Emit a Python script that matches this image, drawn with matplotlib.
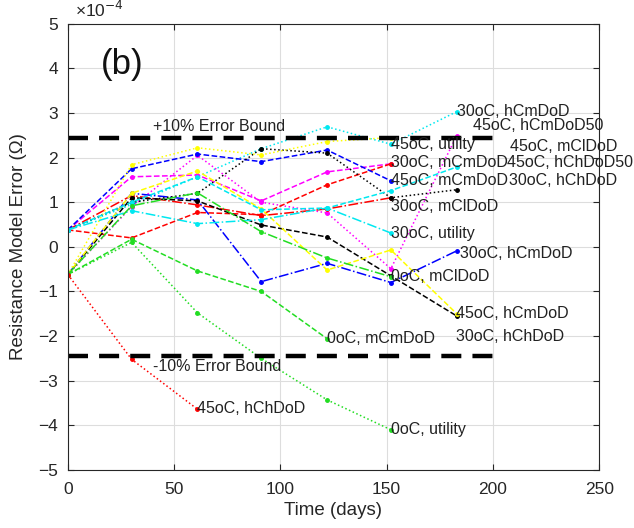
import numpy as np
import matplotlib
matplotlib.use("Agg")
import matplotlib.pyplot as plt

plt.rcParams['font.family'] = ['Liberation Sans', 'DejaVu Sans']

# Measurement days
days = [0, 30, 61, 91, 122, 152, 183]
nan = np.nan

# Model error values (x1e-4 Ohm)
cyan_dot = [0.38, 0.95, 1.57, 2.20, 2.69, 2.30, 3.03]
magenta_dot = [-0.62, 0.90, 2.05, 1.00, 0.76, -0.49, 2.49]
magenta_dash = [0.38, 1.57, 1.61, 1.03, 1.68, 1.86, nan]
red_dash = [0.38, 0.20, 0.77, 0.72, 1.39, 1.86, nan]
red_dashdot = [0.38, 1.15, 0.94, 0.70, 0.85, 1.10, nan]
blue_dash = [0.38, 1.75, 2.08, 1.91, 2.17, 1.48, nan]
blue_dashdot = [-0.62, 1.20, 1.05, -0.78, -0.37, -0.80, -0.09]
black_dash = [-0.62, 1.10, 1.03, 0.49, 0.22, -0.65, -1.55]
black_dot = [0.38, 1.00, 1.20, 2.20, 2.10, 1.10, 1.28]
yellow_dot = [-0.62, 1.84, 2.22, 2.06, 2.36, 2.45, nan]
yellow_dash = [-0.62, 1.20, 1.70, 0.85, -0.52, -0.07, -1.50]
cyan_dash = [0.38, 1.00, 1.57, 0.83, 0.87, 1.26, 1.79]
cyan_dashdot = [0.38, 0.81, 0.52, 0.61, 0.87, 0.31, nan]
green_dashdot = [-0.62, 0.92, 1.21, 0.34, -0.25, -0.67, nan]
green_dash = [-0.62, 0.17, -0.54, -1.00, -2.06, nan, nan]
green_dot = [-0.62, 0.10, -1.48, -2.50, -3.43, -4.10, nan]
red_dot = [-0.62, -2.52, -3.64, nan, nan, nan, nan]

series = [
    (cyan_dot, 'c', ':'), (magenta_dot, 'm', ':'), (magenta_dash, 'm', '--'),
    (red_dash, 'r', '--'), (red_dashdot, 'r', '-.'), (blue_dash, 'b', '--'),
    (blue_dashdot, 'b', '-.'), (black_dash, 'k', '--'), (black_dot, 'k', ':'),
    (yellow_dot, 'y', ':'), (yellow_dash, 'y', '--'), (cyan_dash, 'c', '--'),
    (cyan_dashdot, 'c', '-.'), (green_dashdot, 'g', '-.'), (green_dash, 'g', '--'),
    (green_dot, 'g', ':'), (red_dot, 'r', ':'),
]
colors = {'c': '#00e8f0', 'm': '#ff00ff', 'r': '#ff0000', 'b': '#0000ff',
          'k': '#000000', 'y': '#ffff00', 'g': '#22dd22'}

# End labels: (text, day, value)
labels = [
    ("30oC, hCmDoD", 183, 3.03), ("45oC, hCmDoD50", 190.5, 2.71),
    ("45oC, mClDoD", 208, 2.24), ("45oC, hChDoD50", 206.5, 1.88),
    ("30oC, hChDoD", 207.5, 1.48), ("45oC, utility", 152, 2.29),
    ("30oC, mCmDoD", 152, 1.88), ("45oC, mCmDoD", 152, 1.48),
    ("30oC, mClDoD", 152, 0.90), ("30oC, utility", 152, 0.31),
    ("30oC, hCmDoD", 184.5, -0.16), ("0oC, mClDoD", 152, -0.67),
    ("45oC, hCmDoD", 182.5, -1.50), ("30oC, hChDoD", 182.5, -2.00),
    ("0oC, mCmDoD", 122, -2.06), ("45oC, hChDoD", 61, -3.63),
    ("0oC, utility", 152, -4.10),
]
bound = 2.45

fig = plt.figure(figsize=(6.34, 5.28), dpi=100)
ax = fig.add_axes([0.107, 0.110, 0.838, 0.845])

for vals, c, ls in series:
    ax.plot(days, vals, color=colors[c], linestyle=ls, linewidth=1.1,
            marker='.', markersize=5)

ax.plot([0, 200], [bound, bound], color='k', lw=3.2, linestyle=(0, (4.5, 2.5)))
ax.plot([0, 200], [-bound, -bound], color='k', lw=3.2, linestyle=(0, (4.5, 2.5)))
ax.text(40, 2.69, "+10% Error Bound", fontsize=11.5, va='center', ha='left', color='#222222')
ax.text(40, -2.69, "-10% Error Bound", fontsize=11.5, va='center', ha='left', color='#222222')

for t, x, y in labels:
    ax.text(x, y, t, fontsize=11.5, va='center', ha='left', color='#222222')

ax.text(25.5, 4.08, "(b)", fontsize=25, ha='center', va='center', color='#111111')

ax.set_xlim(0, 250)
ax.set_ylim(-5, 5)
ax.set_xticks([0, 50, 100, 150, 200, 250])
ax.set_yticks(range(-5, 6))
ax.grid(True, color='#dddddd', linewidth=0.8)
ax.set_axisbelow(True)
ax.tick_params(direction='in', top=True, right=True, labelsize=12.5,
               colors='#262626', length=4)
ax.tick_params(axis='x', pad=9)
ax.tick_params(axis='y', pad=7)
for s in ax.spines.values():
    s.set_color('#262626')
    s.set_linewidth(0.8)
ax.set_xlabel("Time (days)", fontsize=13.5, color='#262626', labelpad=3)
ax.set_ylabel("Resistance Model Error (\u03a9)", fontsize=13.5, color='#262626', labelpad=8)
fig.text(0.118, 0.962, "\u00d710$^{-4}$", fontsize=12.5, color='#262626', ha='left', va='bottom')

fig.savefig("out.png", dpi=100)
